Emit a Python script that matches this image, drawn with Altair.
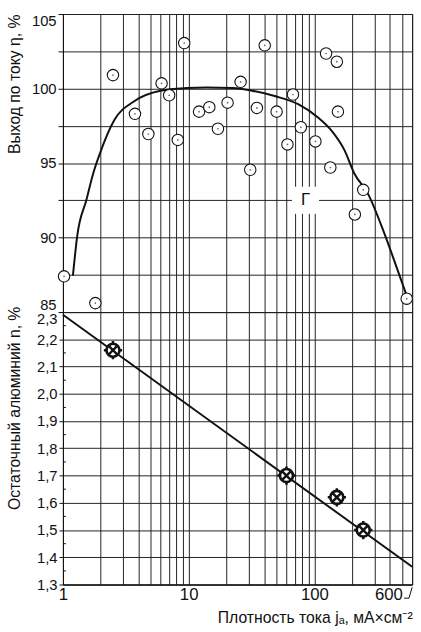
import altair as alt
import pandas as pd

FONT = "Liberation Sans"
INK = "#111111"
GRID = "#222222"

# Current efficiency eta (%) against anodic current density j_a (mA/cm2)
eta_j = [1.02, 1.81, 2.5, 3.74, 4.78, 6.09, 7.0, 8.2, 9.22, 12.1, 14.6, 17.1, 20.4,
         25.9, 30.9, 34.9, 40.3, 50.1, 61.1, 67.6, 78.1, 102, 124, 134, 151, 154,
         210, 245, 543]
eta_pct = [87.4, 85.6, 100.9, 98.3, 96.95, 100.35, 99.55, 96.55, 103.05, 98.45,
           98.75, 97.3, 99.05, 100.45, 94.55, 98.7, 102.9, 98.45, 96.25, 99.6,
           97.4, 96.45, 102.35, 94.7, 101.8, 98.45, 91.55, 93.2, 85.9]

# Smoothed trend of the efficiency (curve "Г")
curve_j = [1.20, 1.30, 1.54, 1.74, 1.96, 2.57, 3.69, 5.97, 9.68, 13.9, 22.5, 32,
           49.2, 75, 107, 137, 174, 208, 265, 358, 456, 548]
curve_eta = [87.44, 90.13, 92.55, 94.3, 95.6, 97.9, 99.15, 99.85, 100.03, 100.07,
             100.03, 99.85, 99.48, 98.93, 98.05, 97.17, 95.85, 94.3, 93.0, 90.35,
             87.9, 86.0]

curve_name = ["Г"]
curve_name_j = [85]
curve_name_eta = [92.5]

# Residual aluminium n (%)
al_j = [2.5, 60, 151, 245]
al_pct = [2.16, 1.70, 1.62, 1.50]
fit_j = [1, 600]
fit_pct = [2.29, 1.365]

# leader from the "600" label to the axis corner
leader_j = [517, 566, 600]
leader_pct = [1.25, 1.25, 1.29]

x_grid = [1, 2, 3, 4, 5, 6, 7, 8, 9, 10, 20, 30, 40, 50, 60, 70, 80, 90,
          100, 200, 300, 400, 500, 600]
eta_ticks = [85, 87.5, 90, 92.5, 95, 97.5, 100, 102.5, 105]
al_ticks = [1.3, 1.4, 1.5, 1.6, 1.7, 1.8, 1.9, 2.0, 2.1, 2.2, 2.3]
al_minor = [1.35, 1.45, 1.55, 1.65, 1.75, 1.85, 1.95, 2.05, 2.15, 2.25]

W = 355
H_TOP = 303
H_BOT = 277

xscale = alt.Scale(type="log", domain=[1, 600], nice=False)

# ---------- upper panel: current efficiency ----------
top_x = alt.X("j:Q", scale=xscale,
              axis=alt.Axis(values=x_grid, labels=False, ticks=False, domain=False,
                            grid=True, title=None))
top_y = alt.Y("v:Q", scale=alt.Scale(domain=[85, 105], nice=False, zero=False),
              axis=alt.Axis(values=eta_ticks,
                            labelExpr="datum.value % 5 == 0 ? format(datum.value, 'd') : ''",
                            labelFlush=True, tickSize=5, labelPadding=2,
                            title="Выход по току η, %", titleAnchor="end",
                            titleX=-41))

eta_df = pd.DataFrame({"j": eta_j, "v": eta_pct})
curve_df = pd.DataFrame({"j": curve_j, "v": curve_eta})
name_df = pd.DataFrame({"j": curve_name_j, "v": curve_name_eta, "t": curve_name})

curve = alt.Chart(curve_df).mark_line(color=INK, strokeWidth=2, interpolate="monotone").encode(
    x=top_x, y=top_y)
rings = alt.Chart(eta_df).mark_point(shape="circle", fill="white", fillOpacity=1,
                                     stroke=INK, strokeWidth=1.1, size=135, opacity=1).encode(
    x=top_x, y=top_y)
dots = alt.Chart(eta_df).mark_point(shape="circle", filled=True, color="#666666",
                                    size=3, opacity=1).encode(x=top_x, y=top_y)
name_box = alt.Chart(name_df).mark_square(color="white", size=760, opacity=1).encode(
    x=top_x, y=top_y)
name_txt = alt.Chart(name_df).mark_text(font=FONT, fontSize=17, color=INK).encode(
    x=top_x, y=top_y, text="t:N")

top = alt.layer(curve, name_box, name_txt, rings, dots).properties(width=W, height=H_TOP)

# ---------- lower panel: residual aluminium ----------
bot_x = alt.X("j:Q", scale=xscale,
              axis=alt.Axis(values=x_grid,
                            labelExpr="(datum.value == 1 || datum.value == 10 || datum.value == 100 || datum.value == 600) ? format(datum.value, 'd') : ''",
                            labelFlush=False, ticks=False, grid=True, labelPadding=2,
                            labelFontSize=17,
                            labelAlign={"condition": {"test": "datum.value == 600", "value": "right"},
                                        "value": "center"},
                            labelOffset={"condition": {"test": "datum.value == 600", "value": -10},
                                         "value": 0},
                            title="Плотность тока jₐ, мА×см⁻²", titleAnchor="end",
                            titlePadding=8))
bot_y = alt.Y("v:Q", scale=alt.Scale(domain=[1.3, 2.3], nice=False, zero=False),
              axis=alt.Axis(values=al_ticks,
                            labelExpr="replace(format(datum.value, '.1f'), '.', ',')",
                            labelBaseline={"condition": {"test": "datum.value > 2.25", "value": "top"},
                                           "value": "middle"},
                            tickSize=4, labelPadding=2,
                            title="Остаточный алюминий n, %", titleAnchor="end",
                            titleX=-41, titleY=-6))

al_df = pd.DataFrame({"j": al_j, "v": al_pct})
fit_df = pd.DataFrame({"j": fit_j, "v": fit_pct})
leader_df = pd.DataFrame({"j": leader_j, "v": leader_pct})
minor_df = pd.DataFrame({"v": al_minor})

minor = alt.Chart(minor_df).mark_rule(color=INK, strokeWidth=1).encode(
    x=alt.value(0), x2=alt.value(3), y=bot_y)
fit = alt.Chart(fit_df).mark_line(color=INK, strokeWidth=2).encode(x=bot_x, y=bot_y)
al_ring = alt.Chart(al_df).mark_point(shape="circle", fill="white", fillOpacity=1,
                                      stroke=INK, strokeWidth=2.7, size=175, opacity=1).encode(
    x=bot_x, y=bot_y)
al_cross = alt.Chart(al_df).mark_point(
    shape="M-0.62,-0.62L0.62,0.62M-0.62,0.62L0.62,-0.62"
          "M-1.4,0L-1.05,0M1.05,0L1.4,0M0,-1.4L0,-1.05M0,1.05L0,1.4",
    filled=False, stroke=INK, strokeWidth=2.5, size=175, opacity=1).encode(x=bot_x, y=bot_y)
leader = alt.Chart(leader_df).mark_line(color=INK, strokeWidth=1).encode(x=bot_x, y=bot_y)

bottom = alt.layer(minor, fit, al_ring, al_cross, leader).properties(width=W, height=H_BOT)

chart = alt.vconcat(top, bottom, spacing=0, bounds="flush").properties(
    padding={"left": 6, "top": 8, "right": 4, "bottom": 0}
).configure(font=FONT).configure_view(
    stroke=INK, strokeWidth=1
).configure_axis(
    labelFont=FONT, titleFont=FONT, labelFontSize=15, titleFontSize=16,
    labelColor=INK, titleColor=INK, titleFontWeight="normal",
    domainColor=INK, tickColor=INK, gridColor=GRID, gridWidth=1, gridOpacity=1,
)

chart.save("out.html", embed_options={"renderer": "svg", "actions": False})
